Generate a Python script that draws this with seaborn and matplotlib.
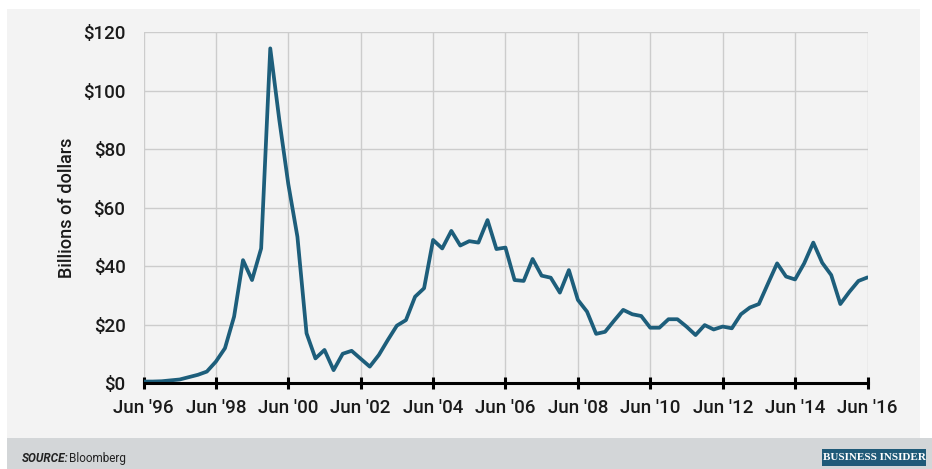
import matplotlib
matplotlib.use("Agg")
import matplotlib.pyplot as plt
import matplotlib.patches as mpatches
import seaborn as sns
import pandas as pd

# Quarterly values, Jun 1996 .. Jun 2016 (billions of dollars)
values = [0.5, 0.5, 0.6, 0.9, 1.2, 2.0, 2.8, 3.9, 7.3, 11.9,
          22.7, 42.0, 35.2, 46.0, 114.4, 90.0, 68.0, 50.0, 17.0, 8.4,
          11.3, 4.4, 10.0, 11.0, 8.3, 5.6, 9.6, 14.7, 19.6, 21.5,
          29.5, 32.4, 48.9, 46.0, 52.0, 47.0, 48.5, 48.0, 55.7, 45.8,
          46.3, 35.2, 34.9, 42.4, 36.7, 36.0, 30.9, 38.6, 28.4, 24.4,
          16.8, 17.5, 21.3, 25.0, 23.5, 22.9, 18.9, 18.9, 21.8, 21.8,
          19.3, 16.4, 19.8, 18.3, 19.3, 18.7, 23.5, 25.8, 27.0, 34.0,
          40.9, 36.4, 35.4, 40.9, 48.0, 41.1, 36.9, 27.0, 31.2, 34.9,
          36.1]
dates = pd.date_range("1996-06-30", periods=len(values), freq="QE")
tick_years = [1996, 1998, 2000, 2002, 2004, 2006, 2008, 2010, 2012, 2014, 2016]
tick_labels = ["Jun '96", "Jun '98", "Jun '00", "Jun '02", "Jun '04", "Jun '06",
               "Jun '08", "Jun '10", "Jun '12", "Jun '14", "Jun '16"]
y_ticks = [0, 20, 40, 60, 80, 100, 120]
y_labels = ["$0", "$20", "$40", "$60", "$80", "$100", "$120"]

df = pd.DataFrame({"date": dates, "value": values})

sns.set_theme(style="white")
plt.rcParams["font.family"] = ["Roboto", "DejaVu Sans"]

W, H = 932, 469
fig = plt.figure(figsize=(W / 100, H / 100), dpi=100)
fig.patch.set_facecolor("white")

# background panels
fig.patches.append(mpatches.Rectangle((7 / W, 1 - 438 / H), (920 - 7) / W, (438 - 9) / H,
                                      transform=fig.transFigure, facecolor="#f3f3f3",
                                      edgecolor="none", zorder=-2))
fig.patches.append(mpatches.Rectangle((7 / W, 0), (932 - 7) / W, (469 - 438) / H,
                                      transform=fig.transFigure, facecolor="#d3d6d8",
                                      edgecolor="none", zorder=-2))

ax = fig.add_axes([143.5 / W, 1 - 383 / H, (867.5 - 143.5) / W, (383 - 32) / H])
ax.set_facecolor("none")
ax.set_zorder(2)

sns.lineplot(data=df, x="date", y="value", ax=ax, color="#1d5e7b", linewidth=2.7,
             zorder=3)

tick_dates = [pd.Timestamp(f"{y}-06-30") for y in tick_years]
ax.set_xlim(tick_dates[0], tick_dates[-1])
ax.set_ylim(0, 120)
ax.set_xticks(tick_dates)
ax.set_xticklabels(tick_labels, fontweight="medium")
ax.set_yticks(y_ticks)
ax.set_yticklabels(y_labels, fontweight="medium")

ax.grid(True, color="#cccccc", linewidth=1.0, zorder=0)
ax.set_axisbelow(True)
for s in ["top", "right", "left"]:
    ax.spines[s].set_visible(False)
ax.spines["bottom"].set_color("black")
ax.spines["bottom"].set_linewidth(2.2)
ax.spines["bottom"].set_zorder(4)

ax.tick_params(axis="x", bottom=True, direction="inout", length=9, width=2.2,
               color="black", labelsize=13.5, labelcolor="#1a1a1a", pad=7)
ax.tick_params(axis="y", left=False, length=0, labelsize=13.5, labelcolor="#1a1a1a",
               pad=13)
ax.set_xlabel("")
ax.set_ylabel("Billions of dollars", fontsize=13, color="#1a1a1a",
              fontweight="medium")
ax.yaxis.label.set_va("center")
ax.yaxis.set_label_coords(-(143.5 - 67) / (867.5 - 143.5), 0.5)

# footer
fig.text(22 / W, 1 - 458 / H, "SOURCE:", fontsize=8.5, fontweight="bold",
         fontstyle="italic", color="#222222", va="center", ha="left")
fig.text(69 / W, 1 - 458 / H, "Bloomberg", fontsize=8.5, color="#222222",
         va="center", ha="left")
fig.patches.append(mpatches.Rectangle((822 / W, 1 - 466 / H), (926 - 822) / W, 17 / H,
                                      transform=fig.transFigure, facecolor="#1f5a78",
                                      edgecolor="none", zorder=1))
fig.text(874 / W, 1 - 457.5 / H, "BUSINESS INSIDER", fontsize=8, color="white",
         fontweight="bold", family=["Liberation Serif", "DejaVu Serif"],
         va="center", ha="center", zorder=2)

fig.savefig("out.png", dpi=100)
